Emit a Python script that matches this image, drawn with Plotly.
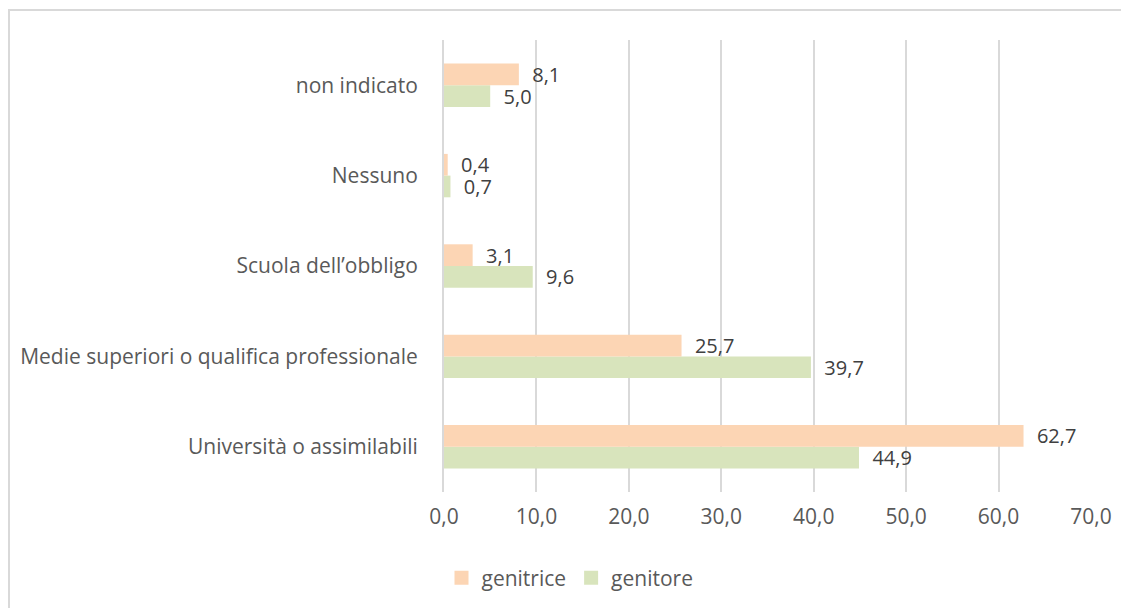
import plotly.graph_objects as go

categories = ["Università o assimilabili", "Medie superiori o qualifica professionale",
              "Scuola dell\u2019obbligo", "Nessuno", "non indicato"]
genitrice = [62.7, 25.7, 3.1, 0.4, 8.1]
genitore = [44.9, 39.7, 9.6, 0.7, 5.0]
tick_vals = [0, 10, 20, 30, 40, 50, 60, 70]

FONT = "Open Sans"
FS = 21
FS_LBL = 20
OFF = 8  # default page body margin
W, H = 1129 - OFF, 608 - OFF
# plot area in page pixels: x 444..1091, y 40..492
L = 444 - OFF
R = W - (1091 - OFF)
T = 40 - OFF
B = H - (492 - OFF)

C_F = "#FCD5B4"
C_M = "#D8E4BC"

def fmt(v):
    return f"{v:.1f}".replace(".", ",")

PAD = "  "

fig = go.Figure()
fig.add_trace(go.Bar(name="genitore", y=categories, x=genitore, orientation="h",
                     marker=dict(color=C_M, line=dict(width=0)), showlegend=False,
                     text=[PAD + fmt(v) for v in genitore], textposition="outside",
                     constraintext="none",
                     textfont=dict(color="#404040", size=FS_LBL, family=FONT), cliponaxis=False))
fig.add_trace(go.Bar(name="genitrice", y=categories, x=genitrice, orientation="h",
                     marker=dict(color=C_F, line=dict(width=0)), showlegend=False,
                     text=[PAD + fmt(v) for v in genitrice], textposition="outside",
                     constraintext="none",
                     textfont=dict(color="#404040", size=FS_LBL, family=FONT), cliponaxis=False))
# legend entries with larger square swatches
fig.add_trace(go.Scatter(name="genitrice", x=[None], y=[None], mode="markers",
                         marker=dict(symbol="square", size=14, color=C_F)))
fig.add_trace(go.Scatter(name="genitore", x=[None], y=[None], mode="markers",
                         marker=dict(symbol="square", size=14, color=C_M)))

pw = W - L - R
ph = H - T - B
def px_x(p):
    return (p - OFF - L) / pw
def px_y(p):
    return (H - B - (p - OFF)) / ph

fig.update_layout(
    width=W, height=H,
    margin=dict(l=L, r=R, t=T, b=B, autoexpand=False),
    barmode="group", bargap=0.52, bargroupgap=0,
    plot_bgcolor="white", paper_bgcolor="white",
    separators=",.",
    font=dict(family=FONT, color="#595959", size=FS),
    uniformtext=dict(mode="show", minsize=FS_LBL),
    xaxis=dict(range=[0, 70], tickvals=tick_vals, tickformat=".1f",
               showgrid=True, gridcolor="#D9D9D9", gridwidth=2,
               zeroline=False, showline=False, ticks="",
               tickfont=dict(size=FS, color="#595959"), ticklabelstandoff=10),
    yaxis=dict(type="category", categoryorder="array", categoryarray=categories,
               showgrid=False, zeroline=False, showline=True, linecolor="#D9D9D9", linewidth=2,
               ticks="", tickfont=dict(size=FS, color="#595959"), ticklabelstandoff=20),
    legend=dict(orientation="h", x=px_x(570), xanchor="center",
                y=px_y(578), yanchor="middle", font=dict(size=FS, color="#595959"),
                itemwidth=30),
    showlegend=True,
    shapes=[dict(type="rect", xref="paper", yref="paper",
                 x0=px_x(OFF + 1), x1=px_x(1200), y0=px_y(700), y1=px_y(10),
                 line=dict(color="#D9D9D9", width=2), fillcolor="rgba(0,0,0,0)", layer="below")],
)

fig.write_html("out.html")
